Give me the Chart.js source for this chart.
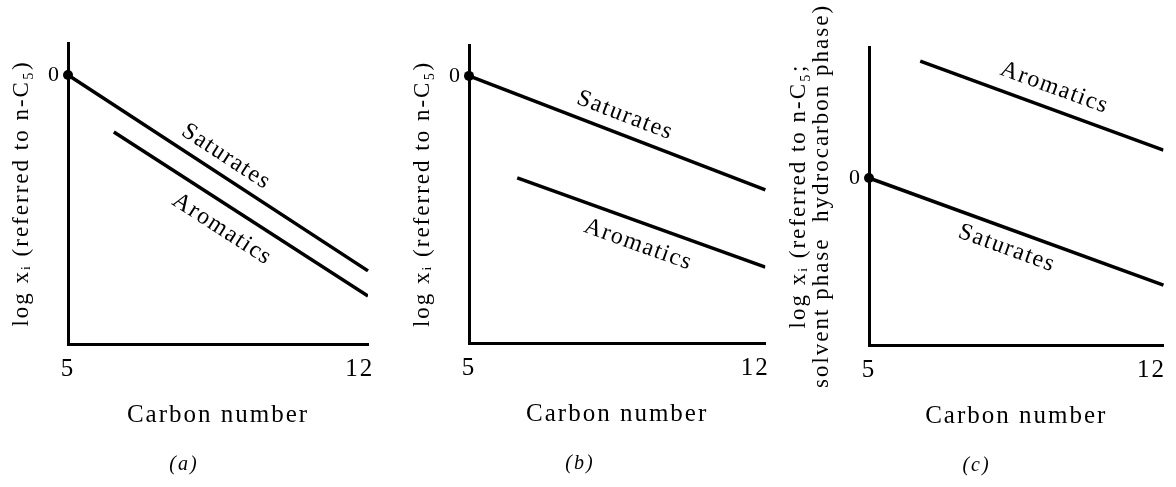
<!DOCTYPE html>
<html>
<head>
<meta charset="utf-8">
<script src="https://cdn.jsdelivr.net/npm/chart.js@4"></script>
<style>
  html, body { margin: 0; padding: 0; background: #fff; }
  #wrap { position: relative; width: 1176px; height: 487px; }
  .panel { position: absolute; top: 0; height: 487px; }
</style>
</head>
<body>
<div id="wrap">
  <div class="panel" style="left:0;width:390px"><canvas id="chartA"></canvas></div>
  <div class="panel" style="left:390px;width:390px"><canvas id="chartB"></canvas></div>
  <div class="panel" style="left:780px;width:396px"><canvas id="chartC"></canvas></div>
</div>
<script>
// Tick values (only the ends of the carbon axis and the n-C5 reference are labelled)
const carbonTicks = [5, 12];
const zeroTick = [0];

// Panel (a) - [carbon number, log x] (arbitrary log units)
const satA = [[5, 0], [12.2, -6.53]];
const aroA = [[6.1, -1.9], [12.2, -7.37]];
const xRangeA = [5, 12.2];
const yRangeA = [-8.97, 1.07];

// Panel (b)
const satB = [[5, 0], [12.25, -3.8]];
const aroB = [[6.18, -3.4], [12.25, -6.37]];
const xRangeB = [5, 12.25];
const yRangeB = [-8.9, 1.03];

// Panel (c)
const satC = [[5, 0], [12.3, -3.57]];
const aroC = [[6.27, 3.9], [12.3, 0.93]];
const xRangeC = [5, 12.3];
const yRangeC = [-5.57, 4.37];

const SERIF = '"Liberation Serif", "Times New Roman", serif';

// Chart.js has no letter spacing option, set it on the context
const spacingPlugin = {
    id: 'spacing',
    beforeLayout(chart) { chart.ctx.letterSpacing = '2px'; },
    beforeDraw(chart) { chart.ctx.letterSpacing = '2px'; }
};

// Write dataset names along their lines
const lineLabels = {
    id: 'lineLabels',
    afterDatasetsDraw(chart, args, opts) {
        const { ctx, scales: { x, y } } = chart;
        ctx.save();
        ctx.font = '24px ' + SERIF;
        ctx.letterSpacing = '1.5px';
        ctx.fillStyle = '#000';
        ctx.textAlign = 'center';
        ctx.textBaseline = 'middle';
        (opts.items || []).forEach(item => {
            const ds = chart.data.datasets[item.dataset];
            const p0 = ds.data[0], p1 = ds.data[ds.data.length - 1];
            const x0 = x.getPixelForValue(p0.x), y0 = y.getPixelForValue(p0.y);
            const x1 = x.getPixelForValue(p1.x), y1 = y.getPixelForValue(p1.y);
            const t = (item.at - p0.x) / (p1.x - p0.x);
            ctx.save();
            ctx.translate(x0 + t * (x1 - x0), y0 + t * (y1 - y0));
            ctx.rotate(Math.atan2(y1 - y0, x1 - x0));
            ctx.fillText(ds.label, 0, item.offset);
            ctx.restore();
        });
        ctx.restore();
    }
};

const toPts = arr => arr.map(p => ({ x: p[0], y: p[1] }));

function makePanel(cfg) {
    return new Chart(document.getElementById(cfg.id), {
        type: 'line',
        data: {
            datasets: [
                {
                    label: 'Saturates',
                    data: toPts(cfg.sat),
                    borderColor: '#000',
                    borderWidth: 3.5,
                    pointRadius: [5, 0],
                    pointBackgroundColor: '#000',
                    pointBorderWidth: 0,
                    clip: false
                },
                {
                    label: 'Aromatics',
                    data: toPts(cfg.aro),
                    borderColor: '#000',
                    borderWidth: 3.5,
                    pointRadius: 0
                }
            ]
        },
        options: {
            responsive: true,
            maintainAspectRatio: false,
            animation: false,
            events: [],
            layout: {
                autoPadding: false,
                padding: { left: 0, right: cfg.padRight, top: cfg.padTop, bottom: cfg.padBottom }
            },
            scales: {
                x: {
                    type: 'linear',
                    min: cfg.xRange[0],
                    max: cfg.xRange[1],
                    afterBuildTicks: s => { s.ticks = carbonTicks.map(v => ({ value: v })); },
                    afterFit: s => { s.height = 100; },
                    grid: { display: false, drawTicks: false },
                    border: { display: true, color: '#000', width: 3 },
                    ticks: { color: '#000', padding: 10, maxRotation: 0, font: { family: SERIF, size: 25 } },
                    title: {
                        display: true,
                        text: 'Carbon number',
                        color: '#000',
                        font: { family: SERIF, size: 25 },
                        padding: { top: 0, bottom: 14 }
                    }
                },
                y: {
                    type: 'linear',
                    min: cfg.yRange[0],
                    max: cfg.yRange[1],
                    afterBuildTicks: s => { s.ticks = zeroTick.map(v => ({ value: v })); },
                    afterFit: s => { s.width = cfg.yWidth; },
                    grid: { display: false, drawTicks: false },
                    border: { display: true, color: '#000', width: 3 },
                    ticks: { color: '#000', padding: 7, font: { family: SERIF, size: 22 } },
                    title: {
                        display: true,
                        text: cfg.yTitle,
                        color: '#000',
                        font: { family: SERIF, size: 23, lineHeight: cfg.yTitleLH },
                        padding: { top: cfg.yTitlePad, bottom: 0 }
                    }
                }
            },
            plugins: {
                legend: { display: false },
                tooltip: { enabled: false },
                title: {
                    display: true,
                    position: 'bottom',
                    text: cfg.caption,
                    color: '#000',
                    font: { family: SERIF, size: 20, style: 'italic', weight: 'normal' },
                    padding: { top: 9, bottom: 0 }
                },
                lineLabels: { items: cfg.labels }
            }
        },
        plugins: [spacingPlugin, lineLabels]
    });
}

makePanel({
    id: 'chartA', caption: '(a)', sat: satA, aro: aroA, xRange: xRangeA, yRange: yRangeA,
    yTitle: 'log xᵢ (referred to n-C₅)', yTitleLH: 1.2, yTitlePad: 8,
    yWidth: 68, padRight: 22, padTop: 43, padBottom: 10,
    labels: [{ dataset: 0, at: 8.56, offset: -18 }, { dataset: 1, at: 9.0, offset: 23 }]
});

makePanel({
    id: 'chartB', caption: '(b)', sat: satB, aro: aroB, xRange: xRangeB, yRange: yRangeB,
    yTitle: 'log xᵢ (referred to n-C₅)', yTitleLH: 1.2, yTitlePad: 19,
    yWidth: 79, padRight: 10, padTop: 45, padBottom: 11,
    labels: [{ dataset: 0, at: 8.65, offset: -19 }, { dataset: 1, at: 9.32, offset: 22 }]
});

makePanel({
    id: 'chartC', caption: '(c)', sat: satC, aro: aroC, xRange: xRangeC, yRange: yRangeC,
    yTitle: ['log xᵢ (referred to n-C₅;', 'solvent phase  hydrocarbon phase)'], yTitleLH: 1.0, yTitlePad: 7.5,
    yWidth: 89, padRight: 3, padTop: 47, padBottom: 9,
    labels: [{ dataset: 0, at: 8.58, offset: 19 }, { dataset: 1, at: 9.42, offset: -21 }]
});
</script>
</body>
</html>
